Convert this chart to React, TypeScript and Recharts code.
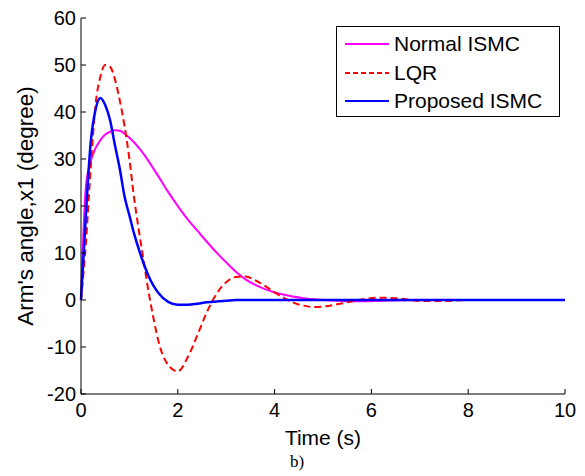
import React from "react";
import { LineChart, Line, XAxis, YAxis, Legend } from "recharts";

// time axis (s)
const time = [
  0, 0.1, 0.2, 0.3, 0.4, 0.5, 0.6, 0.7, 0.8, 0.9, 1.0, 1.1, 1.2, 1.3, 1.4, 1.5, 1.6,
  1.8, 2.0, 2.2, 2.4, 2.6, 2.8, 3.0, 3.2, 3.4, 3.6, 3.8, 4.0, 4.2, 4.4, 4.6, 4.8, 5.0,
  5.4, 5.8, 6.2, 6.6, 7.0, 7.5, 8, 9, 10,
];

// arm angle x1 (degree) for each controller
const normalIsmc = [
  0, 24, 29.5, 32.3, 34, 35.2, 35.8, 36.1, 36, 35.4, 34.5, 33.5, 32.3, 31, 29.5, 27.9, 26.3,
  23, 20, 17.2, 14.8, 12.4, 10.1, 8.0, 6.0, 4.4, 3.2, 2.3, 1.6, 1.1, 0.7, 0.4, 0.15, 0,
  -0.2, -0.25, -0.15, -0.05, 0, 0, 0, 0, 0,
];
const lqr = [
  0, 12, 28, 41.5, 47.5, 50, 49.6, 47, 42.5, 37, 30, 21.5, 14.5, 8, 1.5, -4, -8.8,
  -13.8, -15.2, -12.3, -7.6, -2.6, 1.3, 3.8, 4.9, 5.0, 4.2, 3.0, 1.6, 0.4, -0.6, -1.2, -1.5, -1.4,
  -0.7, 0.1, 0.5, 0.3, -0.2, -0.2, 0, 0, 0,
];
const proposedIsmc = [
  0, 18, 33.5, 40.5, 43, 41.5, 38.3, 33, 28, 22, 18, 14, 10.6, 7.6, 5, 3, 1.5,
  -0.4, -1.0, -1.0, -0.8, -0.5, -0.3, -0.15, 0, 0, 0, 0, 0, 0, 0, 0, 0, 0,
  0, 0, 0, 0, 0, 0, 0, 0, 0,
];

const xTicks = [0, 2, 4, 6, 8, 10];
const yTicks = [-20, -10, 0, 10, 20, 30, 40, 50, 60];

const data = time.map((t, i) => ({
  t,
  normal: normalIsmc[i],
  lqr: lqr[i],
  proposed: proposedIsmc[i],
}));

const series = [
  { key: "normal", name: "Normal ISMC", color: "#ff00ff", dash: undefined, width: 2 },
  { key: "lqr", name: "LQR", color: "#ff0000", dash: "7 4", width: 2 },
  { key: "proposed", name: "Proposed ISMC", color: "#0000ff", dash: undefined, width: 2.5 },
];

const font = "'Liberation Sans', Arial, sans-serif";

const LegendBox = () => (
  <div
    style={{
      border: "1px solid #000",
      background: "#fff",
      width: 224,
      height: 91,
      boxSizing: "border-box",
      paddingTop: 3,
      fontFamily: font,
      fontSize: 21,
      color: "#000",
    }}
  >
    {series.map((s) => (
      <div key={s.key} style={{ display: "flex", alignItems: "center", height: 28.4 }}>
        <svg width={52} height={10} style={{ display: "block" }}>
          <line x1={8} x2={52} y1={5} y2={5} stroke={s.color} strokeWidth={2} strokeDasharray={s.dash ? "5 3" : undefined} />
        </svg>
        <span style={{ marginLeft: 5, whiteSpace: "nowrap" }}>{s.name}</span>
      </div>
    ))}
  </div>
);

const App = () => {
  return (
    <div style={{ position: "absolute", left: 0, top: 0, width: 585, height: 476, background: "#fff" }}>
      <LineChart
        width={585}
        height={476}
        data={data}
        margin={{ top: 18, right: 20, bottom: 0, left: 0 }}
        style={{ fontFamily: font }}
      >
        <XAxis
          dataKey="t"
          type="number"
          domain={[0, 10]}
          ticks={xTicks}
          height={82}
          tickSize={-5}
          tickMargin={14}
          stroke="#000"
          tick={{ fill: "#000", fontSize: 20 }}
          label={{ value: "Time (s)", position: "insideTop", offset: 36, fill: "#000", fontSize: 21 }}
        />
        <XAxis
          xAxisId="top"
          orientation="top"
          dataKey="t"
          type="number"
          domain={[0, 10]}
          ticks={xTicks}
          height={0}
          tickSize={-5}
          tick={false}
          stroke="#000"
        />
        <YAxis
          type="number"
          domain={[-20, 60]}
          ticks={yTicks}
          width={81}
          tickSize={-5}
          tickMargin={10}
          stroke="#000"
          tick={{ fill: "#000", fontSize: 20 }}
          label={{
            value: "Arm's angle,x1 (degree)",
            angle: -90,
            position: "insideLeft",
            offset: 25,
            fill: "#000",
            fontSize: 22.5,
            style: { textAnchor: "middle" },
          }}
        />
        <YAxis
          yAxisId="right"
          orientation="right"
          type="number"
          domain={[-20, 60]}
          ticks={yTicks}
          width={0}
          tickSize={-5}
          tick={false}
          stroke="#333"
          strokeWidth={2}
        />
        <Legend
          layout="horizontal"
          verticalAlign="middle"
          align="center"
          content={<LegendBox />}
          wrapperStyle={{ position: "absolute", left: 336, top: 26, width: 224 }}
        />
        {series.map((s) => (
          <Line
            key={s.key}
            type="monotone"
            dataKey={s.key}
            name={s.name}
            stroke={s.color}
            strokeWidth={s.width}
            strokeDasharray={s.dash}
            dot={false}
            isAnimationActive={false}
          />
        ))}
      </LineChart>
      <div
        style={{
          position: "absolute",
          left: 0,
          width: 594,
          top: 452,
          textAlign: "center",
          fontFamily: "'Liberation Serif', 'Times New Roman', serif",
          fontSize: 17,
          color: "#000",
        }}
      >
        b)
      </div>
    </div>
  );
};

export default App;
